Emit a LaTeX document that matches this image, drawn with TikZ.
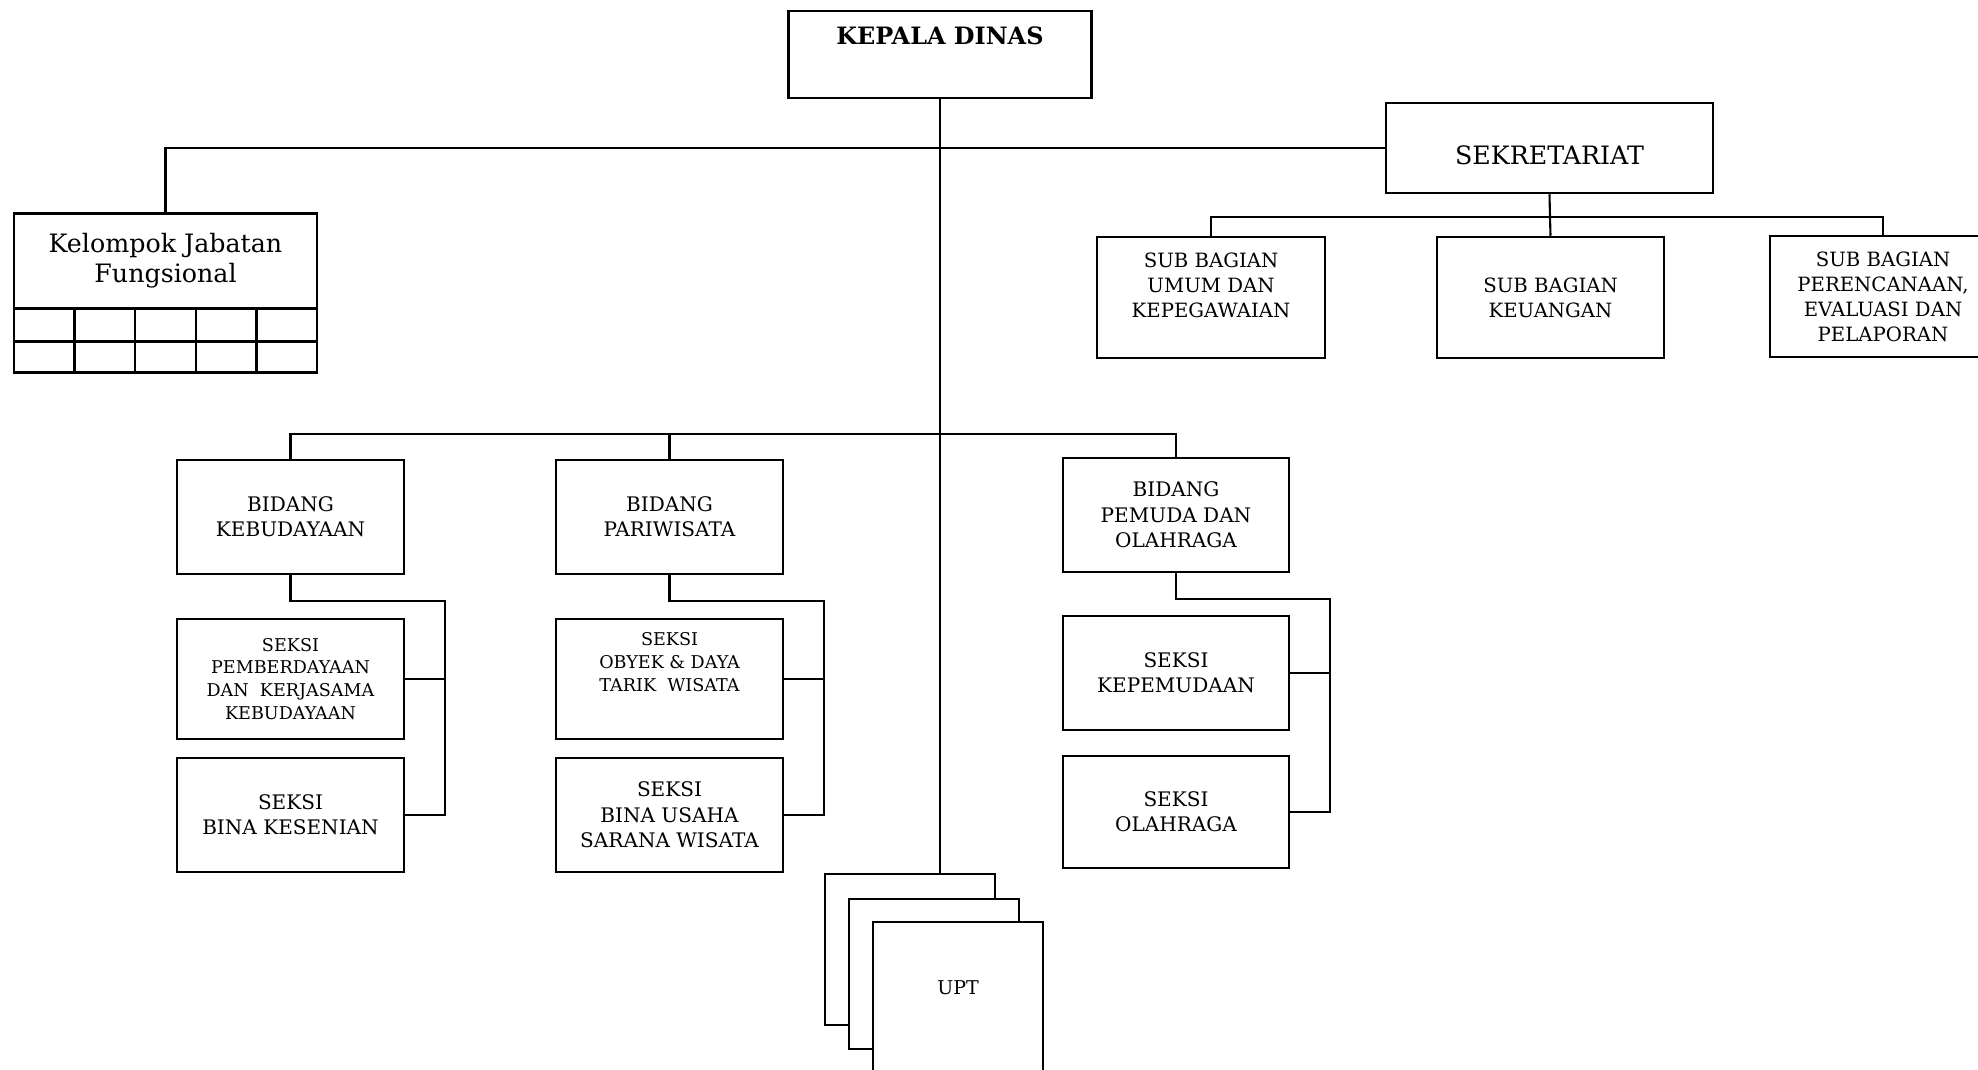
\documentclass[tikz,border=0pt]{standalone}
\usepackage{fontspec}
\setmainfont{DejaVu Serif}
\begin{document}
\begin{tikzpicture}[x=0.01cm, y=-0.01cm,
    unit/.style={draw, line width=0.7pt, inner sep=0pt, align=center, fill=white,
      font=\fontsize{5.7}{7.2}\selectfont},
    small/.style={font=\fontsize{5}{6.5}\selectfont},
    link/.style={line width=0.6pt}]
    \useasboundingbox (0,0) rectangle (1978,1069);
    % pimpinan
    \node[unit, minimum width=3.03cm, minimum height=0.87cm, text height=0.33cm, text depth=0.54cm,
      font=\bfseries\fontsize{6.8}{8}\selectfont] (kadis) at (940,54.5) {KEPALA DINAS};
    \node[unit, minimum width=3.27cm, minimum height=0.90cm, text height=0.61cm, text depth=0.29cm,
      font=\fontsize{7.2}{9}\selectfont] (sek) at (1549.5,148) {SEKRETARIAT};
    \node[unit, minimum width=3.03cm, minimum height=0.95cm,
      font=\fontsize{7.2}{8.6}\selectfont] (kjf) at (165.5,261) {Kelompok Jabatan\\Fungsional};
    \foreach \i in {0,...,4}
      \foreach \j/\h in {308.5/33, 341.5/31}
        \draw[line width=0.7pt] (14+60.6*\i,\j) rectangle +(60.6,\h);
    % sub bagian
    \node[unit, minimum width=2.28cm, minimum height=1.21cm, font=\fontsize{5.6}{7.1}\selectfont] (sub1) at (1211,297.5) {SUB BAGIAN\\UMUM DAN\\KEPEGAWAIAN\\\mbox{}};
    \node[unit, minimum width=2.27cm, minimum height=1.21cm, font=\fontsize{5.6}{7.1}\selectfont] (sub2) at (1550.5,297.5) {SUB BAGIAN\\KEUANGAN};
    \node[unit, minimum width=2.26cm, minimum height=1.21cm, font=\fontsize{5.6}{7.1}\selectfont] (sub3) at (1883,296.5) {SUB BAGIAN\\PERENCANAAN,\\EVALUASI DAN\\PELAPORAN};
    % bidang
    \node[unit, minimum width=2.27cm, minimum height=1.14cm] (bid1) at (290.5,517) {BIDANG\\KEBUDAYAAN};
    \node[unit, minimum width=2.27cm, minimum height=1.14cm] (bid2) at (669.5,517) {BIDANG\\PARIWISATA};
    \node[unit, minimum width=2.26cm, minimum height=1.14cm] (bid3) at (1176,515) {BIDANG\\PEMUDA DAN\\OLAHRAGA};
    % seksi
    \node[unit, small, minimum width=2.27cm, minimum height=1.20cm] (sa1) at (290.5,679) {SEKSI\\PEMBERDAYAAN\\DAN\ \ KERJASAMA\\KEBUDAYAAN};
    \node[unit, minimum width=2.27cm, minimum height=1.14cm] (sb1) at (290.5,815) {SEKSI\\BINA KESENIAN};
    \node[unit, small, minimum width=2.27cm, minimum height=1.20cm] (sa2) at (669.5,679) {SEKSI\\OBYEK \& DAYA\\TARIK\ \ WISATA\\[3pt]\mbox{}};
    \node[unit, minimum width=2.27cm, minimum height=1.14cm] (sb2) at (669.5,815) {SEKSI\\BINA USAHA\\SARANA WISATA};
    \node[unit, minimum width=2.26cm, minimum height=1.14cm] (sa3) at (1176,673) {SEKSI\\KEPEMUDAAN};
    \node[unit, minimum width=2.26cm, minimum height=1.12cm] (sb3) at (1176,812) {SEKSI\\OLAHRAGA};
    % upt
    \node[unit, minimum width=1.70cm, minimum height=1.51cm] (upt1) at (910,949.5) {};
    \node[unit, minimum width=1.70cm, minimum height=1.50cm] (upt2) at (934,974) {};
    \node[unit, minimum width=1.70cm, minimum height=1.78cm, text height=0.72cm, text depth=1.06cm,
      font=\fontsize{5.4}{7}\selectfont] (upt3) at (958,1011) {UPT};
    % garis
    \coordinate (sekbus) at (1550,217);
    \coordinate (bidbus) at (940,434);
    \draw[link] (kadis.south) -- (kadis.south |- upt1.north);
    \draw[link] (kjf.north) |- (sek.west);
    \draw[link] (sek.south) -- (sekbus);
    \draw[link] (sub1.north) |- (sekbus) -| (sub3.north);
    \draw[link] (sekbus) -- (sub2.north);
    \draw[link] (bid1.north) |- (bidbus) -| (bid3.north);
    \draw[link] (bid2.north) -- (bid2.north |- bidbus);
    \foreach \i/\bx in {1/445, 2/824, 3/1330} {
      \coordinate (k\i) at (\bx,0);
      \draw[link] (bid\i.south) -- ++(0,26) -| (k\i |- sb\i.east) -- (sb\i.east);
      \draw[link] (sa\i.east) -- (k\i |- sa\i.east);
    }
\end{tikzpicture}
\end{document}
